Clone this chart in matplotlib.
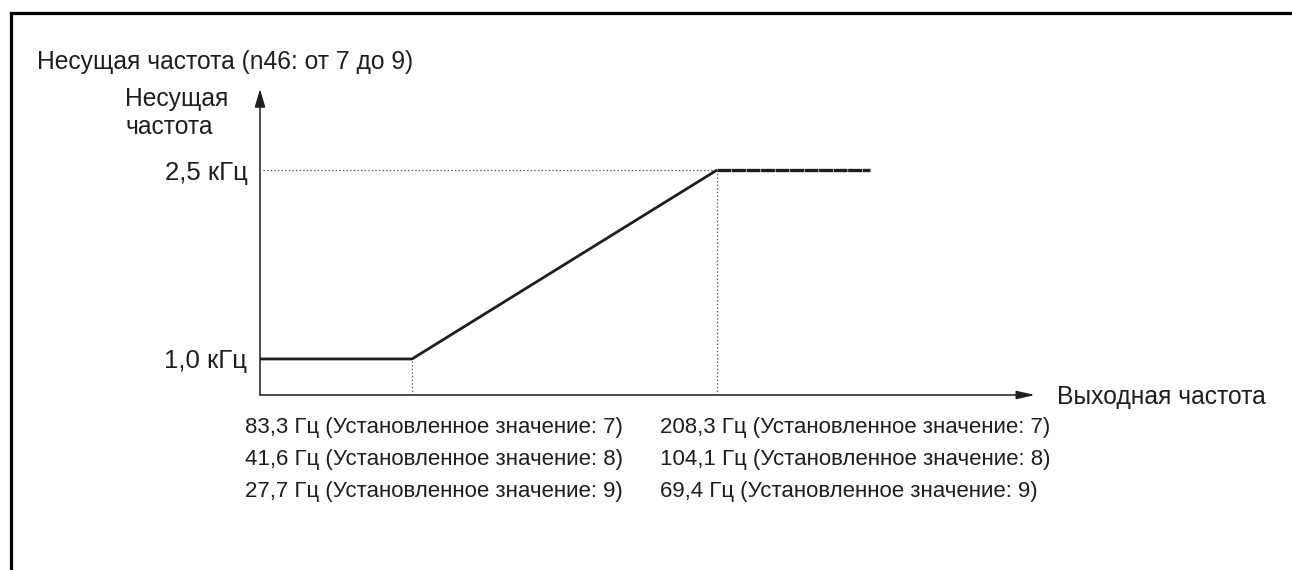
import matplotlib
matplotlib.use("Agg")
import matplotlib.pyplot as plt
from matplotlib.lines import Line2D

plt.rcParams['font.family'] = ['Liberation Sans', 'DejaVu Sans']
plt.rcParams['lines.scale_dashes'] = False

# carrier frequency characteristic (setting 7 used for the x positions)
carrier_khz = [1.0, 2.5]
out_freq_hz = [83.3, 208.3]
freq_end_hz = 271.0
carrier_labels = ["1,0 кГц", "2,5 кГц"]

title = "Несущая частота (n46: от 7 до 9)"
y_title = ["Несущая", "частота"]
x_title = "Выходная частота"
low_labels = ["83,3 Гц (Установленное значение: 7)",
              "41,6 Гц (Установленное значение: 8)",
              "27,7 Гц (Установленное значение: 9)"]
high_labels = ["208,3 Гц (Установленное значение: 7)",
               "104,1 Гц (Установленное значение: 8)",
               "69,4 Гц (Установленное значение: 9)"]

W, H = 1292, 570
ink = "#1e1e1e"
big = 17.7
small = 16


def px(x, y):
    return x / W, 1 - y / H


fig = plt.figure(figsize=(W / 100, H / 100), dpi=100)
fig.patch.set_facecolor("white")

# frame around the figure (top and left edges only)
fig.add_artist(Line2D([11 / W, 1.0], [1 - 13 / H, 1 - 13 / H], color="black", lw=2.3,
                      transform=fig.transFigure))
fig.add_artist(Line2D([11 / W, 11 / W], [1 - 13 / H, 0.0], color="black", lw=2.3,
                      transform=fig.transFigure))

left, right, top, bottom = 260, 1035, 89, 395
ax = fig.add_axes([left / W, 1 - bottom / H, (right - left) / W, (bottom - top) / H])
ax.set_xlim(21.0, 338.6)
ax.set_ylim(0.714, 3.143)
for s in ax.spines.values():
    s.set_visible(False)
ax.patch.set_alpha(0)

# axes with arrow heads
ax.annotate("", xy=(0, 1), xytext=(0, 0), xycoords="axes fraction",
            arrowprops=dict(arrowstyle="-|>,head_length=1.1,head_width=0.32", mutation_scale=10,
                            color=ink, lw=1.1, shrinkA=0, shrinkB=0))
ax.annotate("", xy=(1, 0), xytext=(0, 0), xycoords="axes fraction",
            arrowprops=dict(arrowstyle="-|>,head_length=1.1,head_width=0.25", mutation_scale=10,
                            color=ink, lw=1.1, shrinkA=0, shrinkB=0))

x0 = ax.get_xlim()[0]
y0 = ax.get_ylim()[0]

# dotted guides
dot = (0, (1, 1.6))
ax.plot([x0 + 1.2, out_freq_hz[1]], [carrier_khz[1]] * 2, ls=dot, color="#555555", lw=0.9)
ax.plot([out_freq_hz[0]] * 2, [y0, carrier_khz[0]], ls=dot, color="#555555", lw=0.9)
ax.plot([out_freq_hz[1]] * 2, [y0, carrier_khz[1]], ls=dot, color="#555555", lw=0.9)

# characteristic
ax.plot([x0, out_freq_hz[0], out_freq_hz[1]], [carrier_khz[0], carrier_khz[0], carrier_khz[1]],
        color=ink, lw=2.0, solid_capstyle="butt")
ax.plot([out_freq_hz[1], freq_end_hz], [carrier_khz[1]] * 2, color=ink, lw=2.4,
        ls=(0, (10.0, 0.45)), solid_capstyle="butt", dash_capstyle="butt")

ax.set_xticks([])
ax.set_yticks(carrier_khz)
ax.set_yticklabels(carrier_labels, fontsize=18.5, color=ink)
ax.tick_params(axis="y", length=0, pad=9)

# texts
fig.text(*px(37, 62), title, fontsize=big, color=ink, ha="left", va="center")
fig.text(*px(125, 99), y_title[0], fontsize=big, color=ink, ha="left", va="center")
fig.text(*px(125, 127), y_title[1], fontsize=big, color=ink, ha="left", va="center")
fig.text(*px(1057, 397), x_title, fontsize=big, color=ink, ha="left", va="center")

for i, (lo, hi) in enumerate(zip(low_labels, high_labels)):
    y = 428 + 32 * i
    fig.text(*px(245, y), lo, fontsize=small, color=ink, ha="left", va="center")
    fig.text(*px(660, y), hi, fontsize=small, color=ink, ha="left", va="center")

fig.savefig("out.png", dpi=100, facecolor="white")
